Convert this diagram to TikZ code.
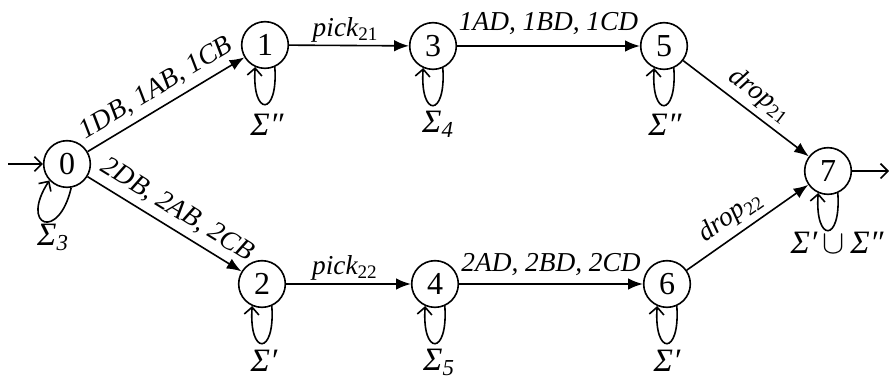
\documentclass[tikz,border=0pt]{standalone}
\usepackage{fontspec}
\setmainfont{Liberation Serif}
\usetikzlibrary{arrows.meta}
\begin{document}
\begin{tikzpicture}[x=0.75pt,y=0.75pt,
  st/.style={circle,draw,line width=1.2pt,minimum size=35pt,inner sep=0pt,font=\fontsize{24}{26}\selectfont},
  edge/.style={line width=1.2pt,-{Latex[length=11pt,width=8.5pt]}},
  lbl/.style={font=\fontsize{20.5}{22}\selectfont\itshape,inner sep=2pt},
  loopa/.style={line width=1.2pt,-{Straight Barb[length=5.5pt,width=11pt]}},
  sig/.style={font=\fontsize{24.5}{26}\selectfont\itshape,inner sep=0pt}
]
\useasboundingbox (0,0) rectangle (889,-379);
\node[st] (q0) at (67,-164) {0};
\node[st] (q1) at (265,-45) {1};
\node[st] (q3) at (433,-46) {3};
\node[st] (q5) at (664,-46) {5};
\node[st] (q2) at (262,-284) {2};
\node[st] (q4) at (435,-284) {4};
\node[st] (q6) at (667,-284) {6};
\node[st] (q7) at (828,-171) {7};

\coordinate (init) at (8,-164);
\coordinate (fin) at (889,-171);
\draw[loopa] (init) -- (q0);
\draw[loopa] (q7) -- (fin);

\draw[edge] (q0) -- node[lbl,sloped,above,pos=0.5,inner sep=5pt] (l01) {1DB, 1AB, 1CB} (q1);
\draw[edge] (q0) -- node[lbl,sloped,above,pos=0.52,inner sep=5pt] (l02) {2DB, 2AB, 2CB} (q2);
\draw[edge] (q1) -- node[lbl,above,pos=0.47] (l13) {pick\textsubscript{\upshape 21}} (q3);
\draw[edge] (q2) -- node[lbl,above,pos=0.47] (l24) {pick\textsubscript{\upshape 22}} (q4);
\draw[edge] (q3) -- node[lbl,above,inner sep=8pt] (l35) {1AD, 1BD, 1CD} (q5);
\draw[edge] (q4) -- node[lbl,above,inner sep=6pt] (l46) {2AD, 2BD, 2CD} (q6);
\draw[edge] (q5) -- node[lbl,sloped,above,pos=0.52,inner sep=4pt] (l57) {drop\textsubscript{\upshape 21}} (q7);
\draw[edge] (q6) -- node[lbl,sloped,above,pos=0.45,inner sep=4pt] (l67) {drop\textsubscript{\upshape 22}} (q7);

\draw[loopa] (q0.-80) .. controls +(-103:55) and +(-123:55) .. (q0.-137);
\foreach \q in {q1,q3,q5,q2,q4,q6,q7}{
  \draw[loopa] (\q.-66) .. controls +(-86:50) and +(-94:50) .. (\q.-114);
}

\node[sig] (s0) at (53,-237) {Σ\textsubscript{3}};
\node[sig] (s1) at (267,-125) {Σ″};
\node[sig] (s3) at (438,-124) {Σ\textsubscript{4}};
\node[sig] (s5) at (665,-125) {Σ″};
\node[sig] (s2) at (264,-361) {Σ′};
\node[sig] (s4) at (439,-362) {Σ\textsubscript{5}};
\node[sig] (s6) at (667,-361) {Σ′};
\node[sig] (s7) at (837,-243) {Σ′$\,\cup\,$Σ″};
\end{tikzpicture}
\end{document}
